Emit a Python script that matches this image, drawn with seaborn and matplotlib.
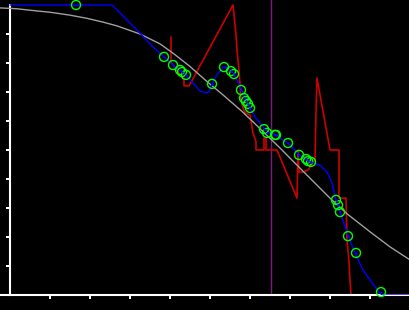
import matplotlib
matplotlib.use("Agg")
import matplotlib.pyplot as plt
import seaborn as sns
import pandas as pd

sns.set_theme(style="dark")

# ---- data ----
fit_x = [-0.25, 0.175, 0.5, 1.0, 1.5, 1.925, 2.325, 2.675, 3.25, 3.75, 4.075, 4.5, 4.925,
         5.325, 5.8, 6.075, 6.75, 7.0, 7.5, 8.0, 8.425, 9.0, 9.5, 10.0]
fit_y = [0.990, 0.987, 0.982, 0.975, 0.965, 0.954, 0.941, 0.928, 0.900, 0.866, 0.834, 0.788, 0.736,
         0.690, 0.633, 0.597, 0.507, 0.472, 0.403, 0.334, 0.280, 0.218, 0.166, 0.121]

smooth_x = [0, 2.55, 2.8, 2.925, 3.25, 3.575, 3.85, 4.075, 4.4, 4.575, 4.75, 4.9, 4.975,
            5.05, 5.175, 5.325, 5.45, 5.575, 5.675, 5.8, 6.0, 6.125, 6.25, 6.375, 6.5,
            6.675, 6.825, 6.95, 7.075, 7.225, 7.5, 7.75, 7.925, 8.05, 8.15, 8.25, 8.45,
            8.625, 8.825, 9.0, 9.225, 9.3, 10.0]
smooth_y = [1.0, 1.0, 0.966, 0.948, 0.903, 0.855, 0.821, 0.793, 0.759, 0.731, 0.703, 0.697, 0.700,
            0.728, 0.759, 0.786, 0.783, 0.766, 0.741, 0.707, 0.645, 0.614, 0.593, 0.572, 0.559,
            0.552, 0.534, 0.524, 0.507, 0.483, 0.459, 0.448, 0.424, 0.386, 0.328, 0.286, 0.207,
            0.145, 0.086, 0.052, 0.010, 0.0, 0.0]

raw_x = [4.025, 4.025, 4.35, 4.35, 4.475, 5.575, 5.6, 5.65, 5.675, 5.725, 5.75, 5.775, 5.825,
         5.875, 6.0, 6.05, 6.075, 6.15, 6.15, 6.35, 6.35, 6.4, 6.4, 6.675, 7.175, 7.2, 7.225,
         7.325, 7.45, 7.625, 7.65, 7.675, 8.0, 8.225, 8.225, 8.4, 8.425, 8.475, 8.5, 8.525, 8.7]
raw_y = [0.890, 0.803, 0.741, 0.721, 0.721, 1.000, 0.966, 0.897, 0.845, 0.776, 0.724, 0.672, 0.645,
         0.628, 0.621, 0.579, 0.559, 0.528, 0.500, 0.500, 0.541, 0.541, 0.500, 0.500, 0.334, 0.500, 0.424,
         0.424, 0.431, 0.466, 0.628, 0.748, 0.500, 0.500, 0.334, 0.334, 0.190, 0.114, 0.052, 0.0, 0.0]

pts_x = [1.65, 3.85, 4.075, 4.25, 4.3, 4.4, 5.05, 5.35, 5.525, 5.6, 5.775, 5.85, 5.9, 5.95, 6.0,
         6.35, 6.425, 6.625, 6.65, 6.95, 7.225, 7.4, 7.45, 7.525, 8.15, 8.2, 8.25, 8.45, 8.65, 9.275]
pts_y = [1.0, 0.821, 0.793, 0.776, 0.769, 0.759, 0.728, 0.786, 0.772, 0.762, 0.707, 0.679, 0.669,
         0.659, 0.645, 0.572, 0.559, 0.552, 0.552, 0.524, 0.483, 0.469, 0.462, 0.459, 0.328, 0.310,
         0.286, 0.203, 0.145, 0.010]

marker_x = 6.525
x_ticks = [1, 2, 3, 4, 5, 6, 7, 8, 9]
y_ticks = [0.1, 0.2, 0.3, 0.4, 0.5, 0.6, 0.7, 0.8, 0.9]

fit_df = pd.DataFrame({"x": fit_x, "y": fit_y})
smooth_df = pd.DataFrame({"x": smooth_x, "y": smooth_y})
raw_df = pd.DataFrame({"x": raw_x, "y": raw_y})
pts_df = pd.DataFrame({"x": pts_x, "y": pts_y})

fig = plt.figure(figsize=(4.1, 3.1), dpi=100, facecolor="black")
ax = fig.add_axes([0, 15 / 310, 1, 295 / 310])
ax.set_facecolor("black")

ax.axvline(marker_x, color="#7a1a80", lw=1.0, zorder=1)
sns.lineplot(data=raw_df, x="x", y="y", ax=ax, color="#cc0000", lw=1.2,
             estimator=None, sort=False, zorder=2)
sns.lineplot(data=fit_df, x="x", y="y", ax=ax, color="#a0a0a0", lw=1.0,
             estimator=None, sort=False, zorder=3)
for line in ax.lines:
    line.set_clip_on(False)
sns.lineplot(data=smooth_df, x="x", y="y", ax=ax, color="#0000ff", lw=1.0,
             estimator=None, sort=False, zorder=4)
sns.scatterplot(data=pts_df, x="x", y="y", ax=ax, s=42, facecolors="none",
                edgecolor="#00ff00", linewidth=1.0, zorder=5, clip_on=False)
sns.scatterplot(data=pts_df, x="x", y="y", ax=ax, s=3, color="#0000ff",
                linewidth=0, zorder=6, clip_on=False)

ax.set_xlim(-0.25, 10)
ax.set_ylim(0, 295 / 290)
ax.set_xticks(x_ticks)
ax.set_yticks(y_ticks)
ax.set_xticklabels([])
ax.set_yticklabels([])
ax.set_xlabel("")
ax.set_ylabel("")
ax.grid(False)
for s in ["top", "right"]:
    ax.spines[s].set_visible(False)
ax.spines["left"].set_position(("data", 0))
ax.spines["left"].set_bounds(0, 1.0)
for s in ["left", "bottom"]:
    ax.spines[s].set_color("white")
    ax.spines[s].set_linewidth(1.5)
ax.tick_params(axis="both", direction="out", length=3, width=1.4, color="white",
               bottom=True, left=True)

fig.savefig("out.png", dpi=100, facecolor="black")
